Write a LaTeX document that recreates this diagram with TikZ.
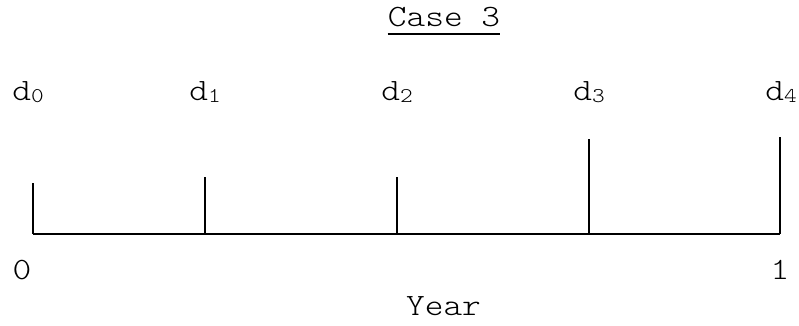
\documentclass[tikz,border=0pt]{standalone}
\usepackage{fontspec}
\setmonofont[FakeStretch=1.15]{Latin Modern Mono Light}
\usetikzlibrary{positioning}
\newcommand{\subidx}[1]{\raisebox{-2pt}{\fontsize{21}{21}\selectfont #1}}

\begin{document}
\begin{tikzpicture}[
    x=1pt, y=1pt,
    lbl/.style={font=\ttfamily\fontsize{31}{31}\selectfont, inner sep=0pt, anchor=base},
    axisline/.style={line width=2pt, draw=black},
    uline/.style={line width=1.5pt, draw=black}
]
\useasboundingbox (0,0) rectangle (799,326);
\node[lbl] (title) at (444,299) {Case 3};
\draw[uline] ([yshift=-7pt]title.base west) -- ([yshift=-7pt]title.base east);
\foreach \x/\h [count=\i from 0] in {33/143, 205/149, 397/149, 589/187, 780/189} {
    \coordinate (a\i) at (\x,92);
    \coordinate (h\i) at (\x,\h);
    \draw[axisline] (a\i) -- (h\i);
}
\draw[axisline] (a0) -- (a4);
\node[lbl] (d0) at (28,225) {d\subidx{0}};
\node[lbl] (d1) at (205,225) {d\subidx{1}};
\node[lbl] (d2) at (397,225) {d\subidx{2}};
\node[lbl] (d3) at (589,225) {d\subidx{3}};
\node[lbl] (d4) at (781,225) {d\subidx{4}};
\node[lbl] (start) at (22,46) {0};
\node[lbl] (end) at (780,46) {1};
\node[lbl] (year) at (443.5,10) {Year};
\end{tikzpicture}
\end{document}
